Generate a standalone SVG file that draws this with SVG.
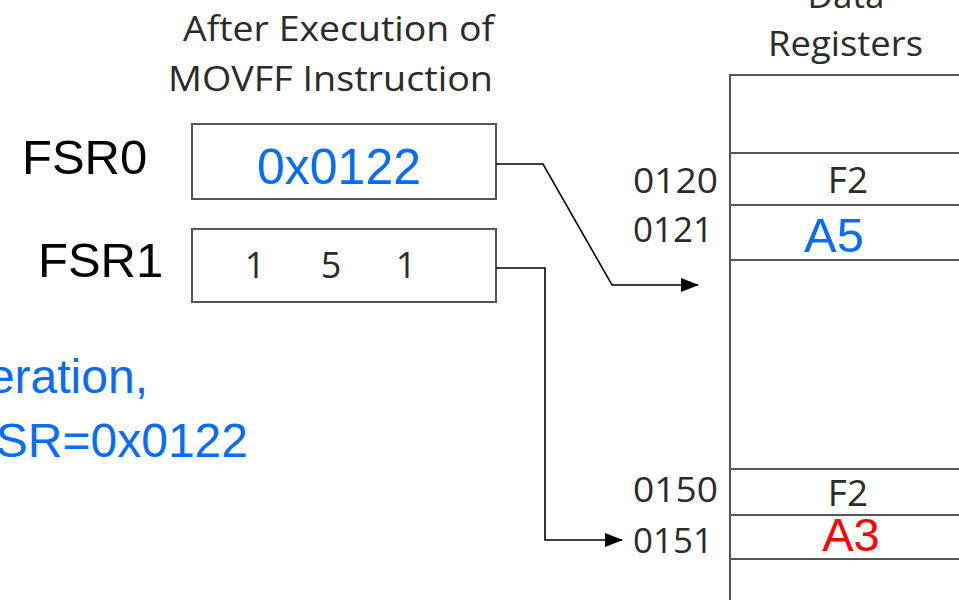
<svg xmlns="http://www.w3.org/2000/svg" width="959" height="600" viewBox="0 0 959 600">
<style>
.lbl{font-family:"Open Sans","Noto Sans",sans-serif;font-size:35px;fill:#2b2b2b}
.big{font-family:"Liberation Sans",Arial,sans-serif;fill:#000}
.blue{fill:#0a6cf5}
.red{fill:#ff0000}
.box{fill:#fff;stroke:#555;stroke-width:2}
.grid{stroke:#555;stroke-width:2;fill:none}
.con{stroke:#000;stroke-width:1.6;fill:none}
</style>
<defs>
<marker id="ah" markerWidth="18" markerHeight="14" refX="17" refY="7" orient="auto" markerUnits="userSpaceOnUse">
<path d="M0,0 L18,7 L0,14 Z" fill="#000"/>
</marker>
</defs>
<rect width="959" height="600" fill="#fff"/>
<g id="title">
<text class="lbl" x="183" y="41" textLength="311" lengthAdjust="spacingAndGlyphs">After Execution of</text>
<text class="lbl" x="168" y="91" textLength="325" lengthAdjust="spacingAndGlyphs">MOVFF Instruction</text>
</g>
<g id="data-registers">
<text class="lbl" x="846" y="8" text-anchor="middle">Data</text>
<text class="lbl" x="768" y="56" textLength="155" lengthAdjust="spacingAndGlyphs">Registers</text>
<path class="grid" d="M960,75 H730 V600 M730,153 H960 M730,205 H960 M730,260 H960 M730,469 H960 M730,515 H960 M730,559 H960"/>
<text class="lbl" x="633" y="193" textLength="85" lengthAdjust="spacingAndGlyphs">0120</text>
<text class="lbl" x="633" y="242" textLength="80" lengthAdjust="spacingAndGlyphs">0121</text>
<text class="lbl" x="633" y="502" textLength="85" lengthAdjust="spacingAndGlyphs">0150</text>
<text class="lbl" x="633" y="553" textLength="80" lengthAdjust="spacingAndGlyphs">0151</text>
<text class="lbl" x="848" y="193" font-size="37" text-anchor="middle" style="font-size:37px">F2</text>
<text class="lbl" x="848" y="506" font-size="37" text-anchor="middle" style="font-size:37px">F2</text>
<text class="big blue" x="834" y="252" font-size="49" text-anchor="middle">A5</text>
<text class="big red" x="851" y="551" font-size="47" text-anchor="middle">A3</text>
</g>
<g id="fsr0">
<text class="big" x="22" y="174" font-size="49">FSR0</text>
<rect class="box" x="192" y="124" width="304" height="75"/>
<text class="big blue" x="339" y="184" font-size="50" text-anchor="middle">0x0122</text>
</g>
<g id="fsr1">
<text class="big" x="38" y="277" font-size="49">FSR1</text>
<rect class="box" x="192" y="229" width="304" height="73"/>
<text class="lbl" x="255" y="278" text-anchor="middle" style="font-size:36px">1</text>
<text class="lbl" x="331" y="278" text-anchor="middle" style="font-size:36px">5</text>
<text class="lbl" x="406" y="278" text-anchor="middle" style="font-size:36px">1</text>
</g>
<g id="note">
<text class="big blue" x="148" y="393" font-size="48" text-anchor="end">eration,</text>
<text class="big blue" x="248" y="457" font-size="48" text-anchor="end">SR=0x0122</text>
</g>
<g id="connectors">
<path class="con" d="M496,164 H543 L612,285 H698" marker-end="url(#ah)"/>
<path class="con" d="M496,268 H545 V540 H622" marker-end="url(#ah)"/>
</g>
</svg>
